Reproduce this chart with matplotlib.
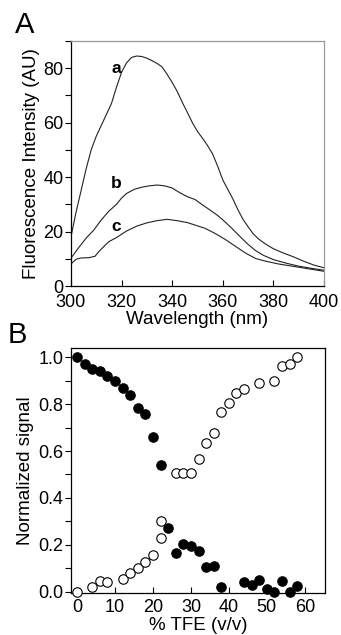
import matplotlib
matplotlib.use("Agg")
import matplotlib.pyplot as plt
from matplotlib.ticker import MultipleLocator

plt.rcParams['font.family'] = ['Liberation Sans', 'DejaVu Sans']

# Panel A: fluorescence spectra
wl_a = [300, 302, 304, 306, 308, 310, 312, 314, 316, 318, 320, 322, 324, 326, 328, 330,
        332, 334, 336, 338, 340, 342, 344, 346, 348, 350, 352, 354, 356, 358, 360, 362,
        364, 366, 368, 370, 372, 374, 376, 378, 380, 384, 388, 392, 396, 400]
int_a = [18, 27, 35, 43, 50, 55, 59, 63, 67, 73, 78.5, 82, 84, 84.5, 84.3, 83.7,
         82.8, 81.8, 80.5, 77.8, 74.8, 71.5, 67.5, 63.8, 60, 56.8, 54.3, 51.6, 48.5, 44, 39, 35.5,
         32, 28, 24.5, 21.8, 19.2, 17.4, 16, 14.8, 13.7, 12.1, 10.7, 9.1, 7.7, 6.7]

wl_b = [300, 303, 306, 309, 312, 315, 318, 320, 322, 325, 328, 331, 334, 337, 340, 343,
        346, 349, 352, 355, 358, 361, 364, 367, 370, 373, 376, 380, 385, 390, 395, 400]
int_b = [10.2, 14, 17.6, 20.5, 24.3, 27.5, 30, 32.3, 34, 35.5, 36.3, 36.8, 37.1, 36.8, 36, 34.3,
         32.8, 31.8, 29.8, 27.9, 25.9, 23.5, 20.8, 18, 15.3, 13, 11.3, 9.7, 8.4, 7.3, 6.5, 5.8]

wl_c = [300, 302, 304, 307, 309.5, 311, 313, 315, 318, 322, 326, 330, 334, 338, 342, 346,
        349, 353, 357, 361, 365, 369, 373, 377, 382, 388, 394, 400]
int_c = [8.1, 9.8, 10.3, 10.4, 10.9, 12.6, 14.5, 16.3, 17.8, 20.2, 22, 23.2, 24, 24.5, 24, 23.3,
         22.4, 21.2, 19.3, 17.1, 14.6, 12.1, 10.1, 9.1, 8.1, 7.2, 6.3, 5.4]

curve_labels = ['a', 'b', 'c']
label_pos = [(318, 80), (318, 37.5), (318, 22)]

# Panel B: normalized signal vs % TFE
filled_x = [0, 2, 4, 6, 8, 10, 12, 14, 16, 18, 20, 22, 24, 26, 28, 30, 32, 34, 36, 38,
            44, 46, 48, 50, 52, 54, 56, 58]
filled_y = [1.0, 0.97, 0.95, 0.94, 0.92, 0.90, 0.87, 0.84, 0.785, 0.76, 0.66, 0.54, 0.27,
            0.165, 0.205, 0.195, 0.175, 0.105, 0.11, 0.02, 0.04, 0.03, 0.05, 0.01, 0.0,
            0.045, 0.0, 0.025]
open_x = [0, 4, 6, 8, 12, 14, 16, 18, 20, 22, 22, 26, 28, 30, 32, 34, 36, 38, 40, 42, 44,
          48, 52, 54, 56, 58]
open_y = [0.0, 0.02, 0.045, 0.043, 0.054, 0.078, 0.10, 0.125, 0.155, 0.23, 0.303, 0.505,
          0.505, 0.508, 0.565, 0.636, 0.676, 0.765, 0.804, 0.846, 0.863, 0.892, 0.90,
          0.963, 0.97, 1.0]

fig = plt.figure(figsize=(3.41, 6.35), dpi=100)
axA = fig.add_axes([0.208, 0.5496, 0.742, 0.3858])
axB = fig.add_axes([0.208, 0.0661, 0.745, 0.3859])

fs = 13
fl = 13.5
lc = '#222222'
for wl, it in [(wl_a, int_a), (wl_b, int_b), (wl_c, int_c)]:
    axA.plot(wl, it, color=lc, lw=0.8)
for lab, (x, y) in zip(curve_labels, label_pos):
    axA.text(x, y, lab, fontsize=12.5, fontweight='bold', ha='center', va='center')

axA.set_xlim(300, 400)
axA.set_ylim(0, 90)
axA.set_xticks([300, 320, 340, 360, 380, 400])
axA.set_yticks([0, 20, 40, 60, 80])
axA.yaxis.set_minor_locator(MultipleLocator(10))
axA.tick_params(axis='x', direction='in', length=4, width=0.8, labelsize=fs, pad=6)
axA.tick_params(axis='y', which='both', direction='out', length=4, width=0.8, labelsize=fs, pad=1.5)
axA.set_xlabel('Wavelength (nm)', fontsize=fl, labelpad=0)
axA.set_ylabel('Fluorescence Intensity (AU)', fontsize=fl, labelpad=2)
for s in ['top', 'right']:
    axA.spines[s].set_color('#999999')
for s in axA.spines.values():
    s.set_linewidth(0.9)

ms = 6.8
axB.plot(open_x, open_y, 'o', ms=ms, mfc='white', mec='black', mew=0.8, ls='none', clip_on=False, zorder=3)
axB.plot(filled_x, filled_y, 'o', ms=ms, mfc='black', mec='black', mew=0.8, ls='none', clip_on=False, zorder=4)
axB.set_xlim(-1.6, 65.3)
axB.set_ylim(-0.006, 1.04)
axB.set_xticks([0, 10, 20, 30, 40, 50, 60])
axB.set_yticks([0.0, 0.2, 0.4, 0.6, 0.8, 1.0])
axB.set_yticklabels(['0.0', '0.2', '0.4', '0.6', '0.8', '1.0'])
axB.yaxis.set_minor_locator(MultipleLocator(0.1))
axB.tick_params(axis='x', direction='in', length=4, width=0.8, labelsize=fs, pad=4)
axB.tick_params(axis='y', which='both', direction='out', length=4, width=0.8, labelsize=fs, pad=1.5)
axB.set_xlabel('% TFE (v/v)', fontsize=fl, labelpad=1)
axB.set_ylabel('Normalized signal', fontsize=fl, labelpad=3)
for s in axB.spines.values():
    s.set_linewidth(0.9)

fig.text(25 / 341, 1 - 25 / 635, 'A', fontsize=21, ha='center', va='center')
fig.text(17 / 341, 1 - 335 / 635, 'B', fontsize=21, ha='center', va='center')

fig.savefig('out.png', dpi=100)
